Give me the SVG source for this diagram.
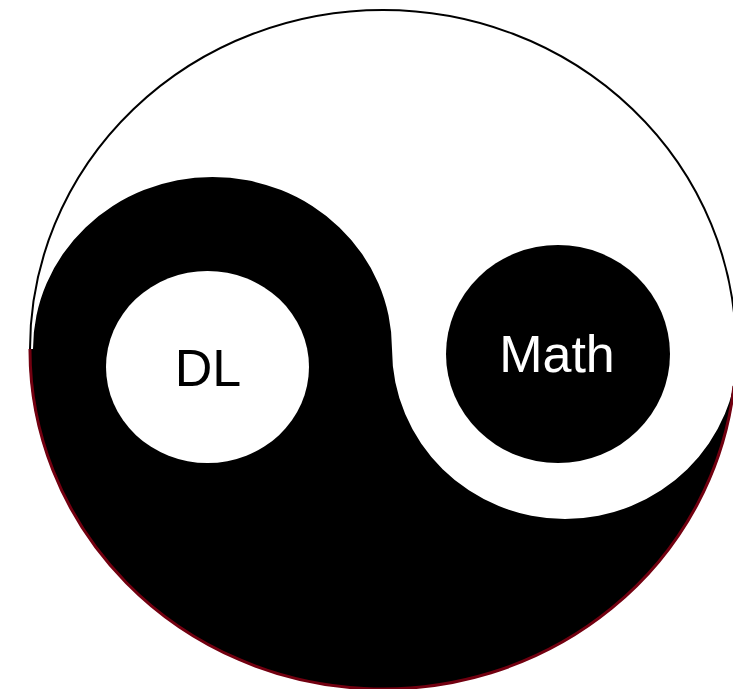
<svg xmlns="http://www.w3.org/2000/svg" width="733" height="689" viewBox="0 0 733 689">
  <style>
    .lbl { font-family: "Liberation Sans", Arial, sans-serif; font-size: 52px; text-anchor: middle; }
  </style>
  <defs>
    <clipPath id="disc">
      <ellipse cx="383" cy="349" rx="353" ry="339"/>
    </clipPath>
  </defs>
  <rect width="733" height="689" fill="#ffffff"/>
  <g id="outer">
    <ellipse cx="383" cy="349" rx="353" ry="339" fill="#ffffff" stroke="#000000" stroke-width="2"/>
  </g>
  <g id="yin">
    <path clip-path="url(#disc)" d="M 33,349 A 179.5,172 0 0 1 392,349 A 173,170 0 0 0 738,349 L 745,349 L 745,700 L 20,700 L 20,349 Z" fill="#000000"/>
    <path d="M 30,349 A 353,339 0 0 0 734,386" fill="none" stroke="#720010" stroke-width="3"/>
  </g>
  <g id="dl">
    <ellipse cx="207.5" cy="367" rx="101.5" ry="96" fill="#ffffff"/>
    <text class="lbl" x="208" y="386" fill="#000000">DL</text>
  </g>
  <g id="math">
    <ellipse cx="558" cy="354" rx="112" ry="109" fill="#000000"/>
    <text class="lbl" x="557" y="372" fill="#ffffff">Math</text>
  </g>
  <g id="connectors"/>
</svg>
